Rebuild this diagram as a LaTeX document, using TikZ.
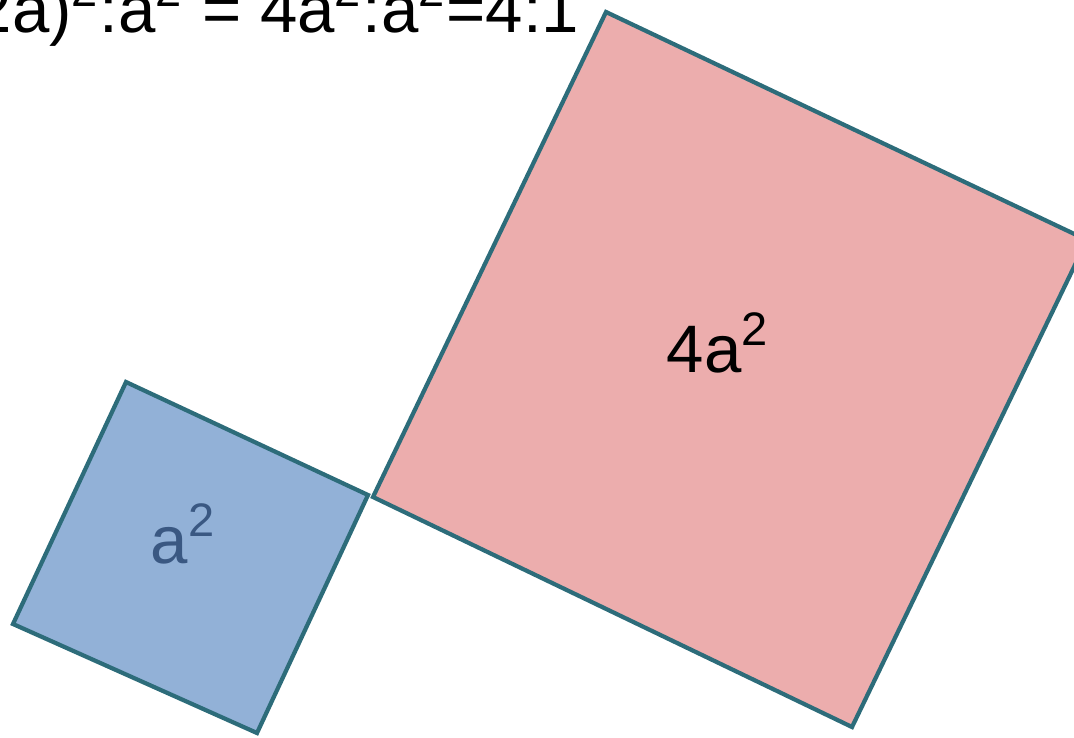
\documentclass[tikz,border=0pt]{standalone}
\usepackage{fontspec}
\setmainfont{Liberation Sans}
\usetikzlibrary{positioning, calc}
\definecolor{edge}{RGB}{45,108,122}
\definecolor{rosy}{RGB}{236,173,173}
\definecolor{bluey}{RGB}{146,177,215}
\definecolor{labblue}{RGB}{58,88,130}
\newcommand{\sq}[1]{#1\textsuperscript{2}}

\begin{document}
\begin{tikzpicture}[x=0.01cm, y=-0.01cm, font=\fontsize{19.1}{23}\selectfont,
  sqr/.style={draw=edge, line width=1.2pt, line join=miter},
  lb/.style={inner sep=0pt}]
  \useasboundingbox (0,0) rectangle (1074,737);
  \clip (0,0) rectangle (1074,737);
  % small square
  \coordinate (sT) at (126,382);
  \coordinate (sR) at (368,495);
  \coordinate (sB) at (257,733);
  \coordinate (sL) at (13,624);
  \draw[sqr, fill=bluey] (sT) -- (sR) -- (sB) -- (sL) -- cycle;
  % big square
  \coordinate (bL) at (373,497);
  \coordinate (bT) at (606,12);
  \coordinate (bR) at (1087,240);
  \coordinate (bB) at (852,727);
  \draw[sqr, fill=rosy] (bL) -- (bT) -- (bR) -- (bB) -- cycle;
  \node[lb, anchor=base west, text=labblue] (small) at (150,563) {\sq{a}};
  \node[lb, anchor=base west] (big) at (666,372) {\sq{4a}};
  \node[lb, anchor=base east] (ratio) at (580,33) {(\sq{2a)}:\sq{a} = \sq{4a}:\sq{a}=4:1};
\end{tikzpicture}
\end{document}
